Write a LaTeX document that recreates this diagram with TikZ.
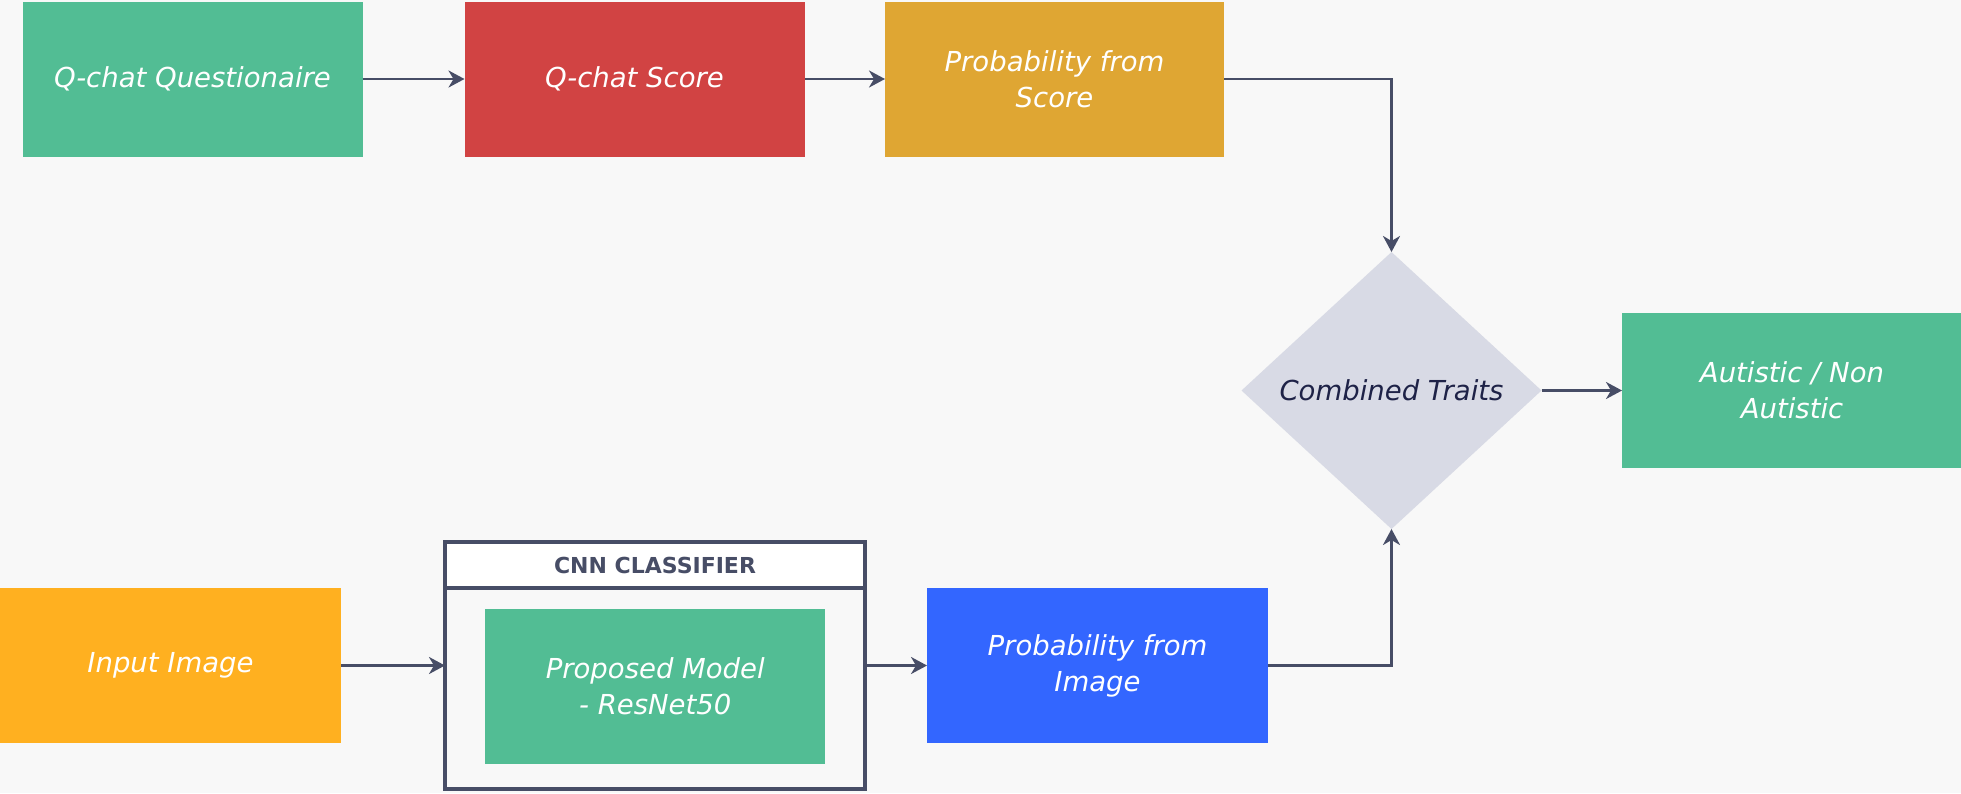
\documentclass[tikz,border=0pt]{standalone}
\usepackage{fontspec}
\setmainfont{DejaVu Sans}
\usetikzlibrary{arrows.meta,shapes.geometric}
\definecolor{bgc}{HTML}{F8F8F8}
\definecolor{greenc}{HTML}{52BD94}
\definecolor{redc}{HTML}{D14343}
\definecolor{goldc}{HTML}{DFA633}
\definecolor{orangec}{HTML}{FFB020}
\definecolor{bluec}{HTML}{3366FF}
\definecolor{diac}{HTML}{D8DAE5}
\definecolor{linec}{HTML}{474D66}
\definecolor{navyc}{HTML}{1E2247}
\begin{document}
\begin{tikzpicture}[x=1pt,y=-1pt,
  box/.style={rectangle, inner sep=0pt, outer sep=0pt, minimum width=340pt, minimum height=155pt,
    text=white, align=center, font=\fontsize{27.5}{36}\selectfont\itshape},
  conn/.style={draw=linec, line width=2.7pt, -{Stealth[length=16pt,width=17pt,inset=5pt]}}
]
\useasboundingbox (0,0) rectangle (1961,793);
\fill[bgc] (0,0) rectangle (1961,793);

% top row
\node[box, fill=greenc] (qq) at (192.5,79) {Q-chat Questionaire};
\node[box, fill=redc] (qs) at (634.5,79) {Q-chat Score};
\node[box, fill=goldc, minimum width=339pt] (ps) at (1054.5,79) {Probability from\\Score};

% decision
\node[diamond, fill=diac, inner sep=0pt, outer sep=0pt, minimum width=300pt, minimum height=277pt,
  text=navyc, font=\fontsize{27.5}{36}\selectfont\itshape] (ct) at (1391.5,390.5) {Combined Traits};
\node[box, fill=greenc] (out) at (1792,390.5) {Autistic / Non\\Autistic};

% bottom row
\node[box, fill=orangec, minimum width=341pt] (in) at (170.5,665.5) {Input Image};
\node[rectangle, draw=linec, line width=4pt, fill=bgc, inner sep=0pt, outer sep=0pt,
  minimum width=420pt, minimum height=247.5pt] (cnn) at (655,665.5) {};
\node[rectangle, draw=linec, line width=4pt, fill=white, inner sep=0pt, outer sep=0pt,
  minimum width=420pt, minimum height=46.5pt, text=linec,
  font=\fontsize{22}{26}\selectfont\bfseries] (cnnt) at (655,565) {CNN CLASSIFIER};
\node[box, fill=greenc] (rn) at (655.25,686.5) {Proposed Model\\- ResNet50};
\node[box, fill=bluec, minimum width=341pt] (pi) at (1097.5,665.5) {Probability from\\Image};

% connectors
\draw[conn] (qq.east) -- (qs.west);
\draw[conn] (qs.east) -- (ps.west);
\draw[conn] (ps.east) -| (ct.north);
\draw[conn] (ct.east) -- (out.west);
\draw[conn] (in.east) -- (cnn.west);
\draw[conn] (cnn.east) -- (pi.west);
\draw[conn] (pi.east) -| (ct.south);
\end{tikzpicture}
\end{document}
